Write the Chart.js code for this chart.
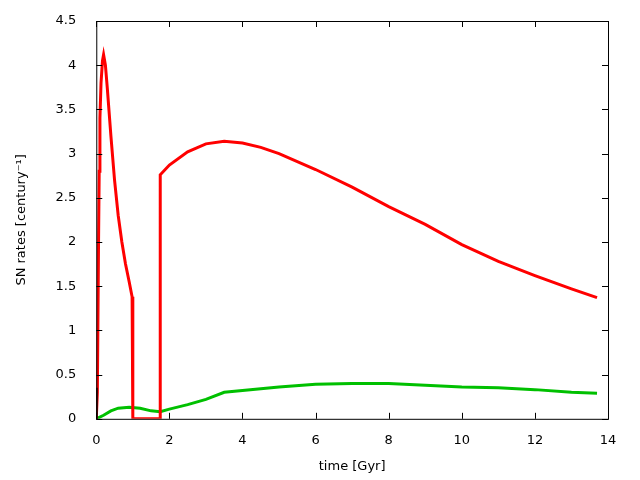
<!DOCTYPE html>
<html>
<head>
<meta charset="utf-8">
<script src="https://cdn.jsdelivr.net/npm/chart.js@4"></script>
<style>
  html, body { margin: 0; padding: 0; background: #fff; }
  #wrap { width: 640px; height: 480px; }
</style>
</head>
<body>
<div id="wrap"><canvas id="c" width="640" height="480"></canvas></div>
<script>
// type Ia / II style SN rates vs time
const redT = [0, 0.03, 0.06, 0.08, 0.1, 0.13, 0.17, 0.2, 0.25, 0.3, 0.4, 0.5, 0.6, 0.7, 0.8, 0.9, 0.98, 1.0, 1.0, 1.75, 1.75, 2, 2.5, 3, 3.5, 4, 4.5, 5, 6, 7, 8, 9, 10, 11, 12, 13, 13.7];
const redR = [0, 0.3, 1.9, 2.8, 3.4, 3.8, 4.05, 4.12, 4.0, 3.75, 3.2, 2.7, 2.3, 2.0, 1.75, 1.55, 1.38, 1.35, 0, 0, 2.76, 2.87, 3.02, 3.11, 3.14, 3.12, 3.07, 3.0, 2.82, 2.62, 2.4, 2.2, 1.97, 1.78, 1.62, 1.47, 1.37];
const greenT = [0, 0.2, 0.4, 0.6, 0.9, 1.2, 1.5, 1.75, 2, 2.5, 3, 3.5, 4, 5, 6, 7, 8, 9, 10, 11, 12, 13, 13.7];
const greenR = [0, 0.04, 0.09, 0.12, 0.13, 0.12, 0.09, 0.08, 0.11, 0.16, 0.22, 0.3, 0.32, 0.36, 0.39, 0.4, 0.4, 0.38, 0.36, 0.35, 0.33, 0.3, 0.29];
const blackT = [0, 0.01];
const blackR = [0, 0.35];
const xTicks = [0, 2, 4, 6, 8, 10, 12, 14];
const yTicks = [0, 0.5, 1, 1.5, 2, 2.5, 3, 3.5, 4, 4.5];

const pts = (t, r) => t.map((v, i) => ({ x: v, y: r[i] }));

const frame = {
  id: "frame",
  afterDraw(chart) {
    const { ctx, chartArea: a, scales } = chart;
    ctx.save();
    ctx.strokeStyle = "#000";
    ctx.lineWidth = 1;
    ctx.strokeRect(a.left + 0.5, a.top + 0.5, a.right - a.left, a.bottom - a.top);
    ctx.beginPath();
    xTicks.forEach((v) => {
      const px = Math.round(scales.x.getPixelForValue(v)) + 0.5;
      ctx.moveTo(px, a.bottom); ctx.lineTo(px, a.bottom - 6);
      ctx.moveTo(px, a.top); ctx.lineTo(px, a.top + 6);
    });
    yTicks.forEach((v) => {
      const py = Math.round(scales.y.getPixelForValue(v)) + 0.5;
      ctx.moveTo(a.left, py); ctx.lineTo(a.left + 6, py);
      ctx.moveTo(a.right, py); ctx.lineTo(a.right - 6, py);
    });
    ctx.stroke();
    ctx.restore();
  },
};

const font = { family: "DejaVu Sans", size: 13 };

new Chart(document.getElementById("c"), {
  type: "scatter",
  data: {
    datasets: [
      { data: pts(blackT, blackR), showLine: true, borderColor: "#000", borderWidth: 2, pointRadius: 0 },
      { data: pts(redT, redR), showLine: true, borderColor: "#ff0000", borderWidth: 3, pointRadius: 0 },
      { data: pts(greenT, greenR), showLine: true, borderColor: "#00c000", borderWidth: 3, pointRadius: 0 },
    ],
  },
  options: {
    responsive: false,
    animation: false,
    layout: { padding: { top: 21, right: 32, left: 10, bottom: 2 } },
    plugins: { legend: { display: false }, tooltip: { enabled: false } },
    scales: {
      x: {
        type: "linear", min: 0, max: 14,
        afterBuildTicks: (s) => { s.ticks = xTicks.map((v) => ({ value: v })); },
        grid: { display: false },
        border: { display: false },
        ticks: { color: "#000", font, padding: 6, callback: (v) => String(v) },
        title: { display: true, text: "time [Gyr]", color: "#000", font },
      },
      y: {
        min: 0, max: 4.5,
        afterBuildTicks: (s) => { s.ticks = yTicks.map((v) => ({ value: v })); },
        grid: { display: false },
        border: { display: false },
        ticks: { color: "#000", font, padding: 12, callback: (v) => String(v) },
        title: { display: true, text: "SN rates [century⁻¹]", color: "#000", font, padding: { bottom: 14 } },
      },
    },
  },
  plugins: [frame],
});
</script>
</body>
</html>
